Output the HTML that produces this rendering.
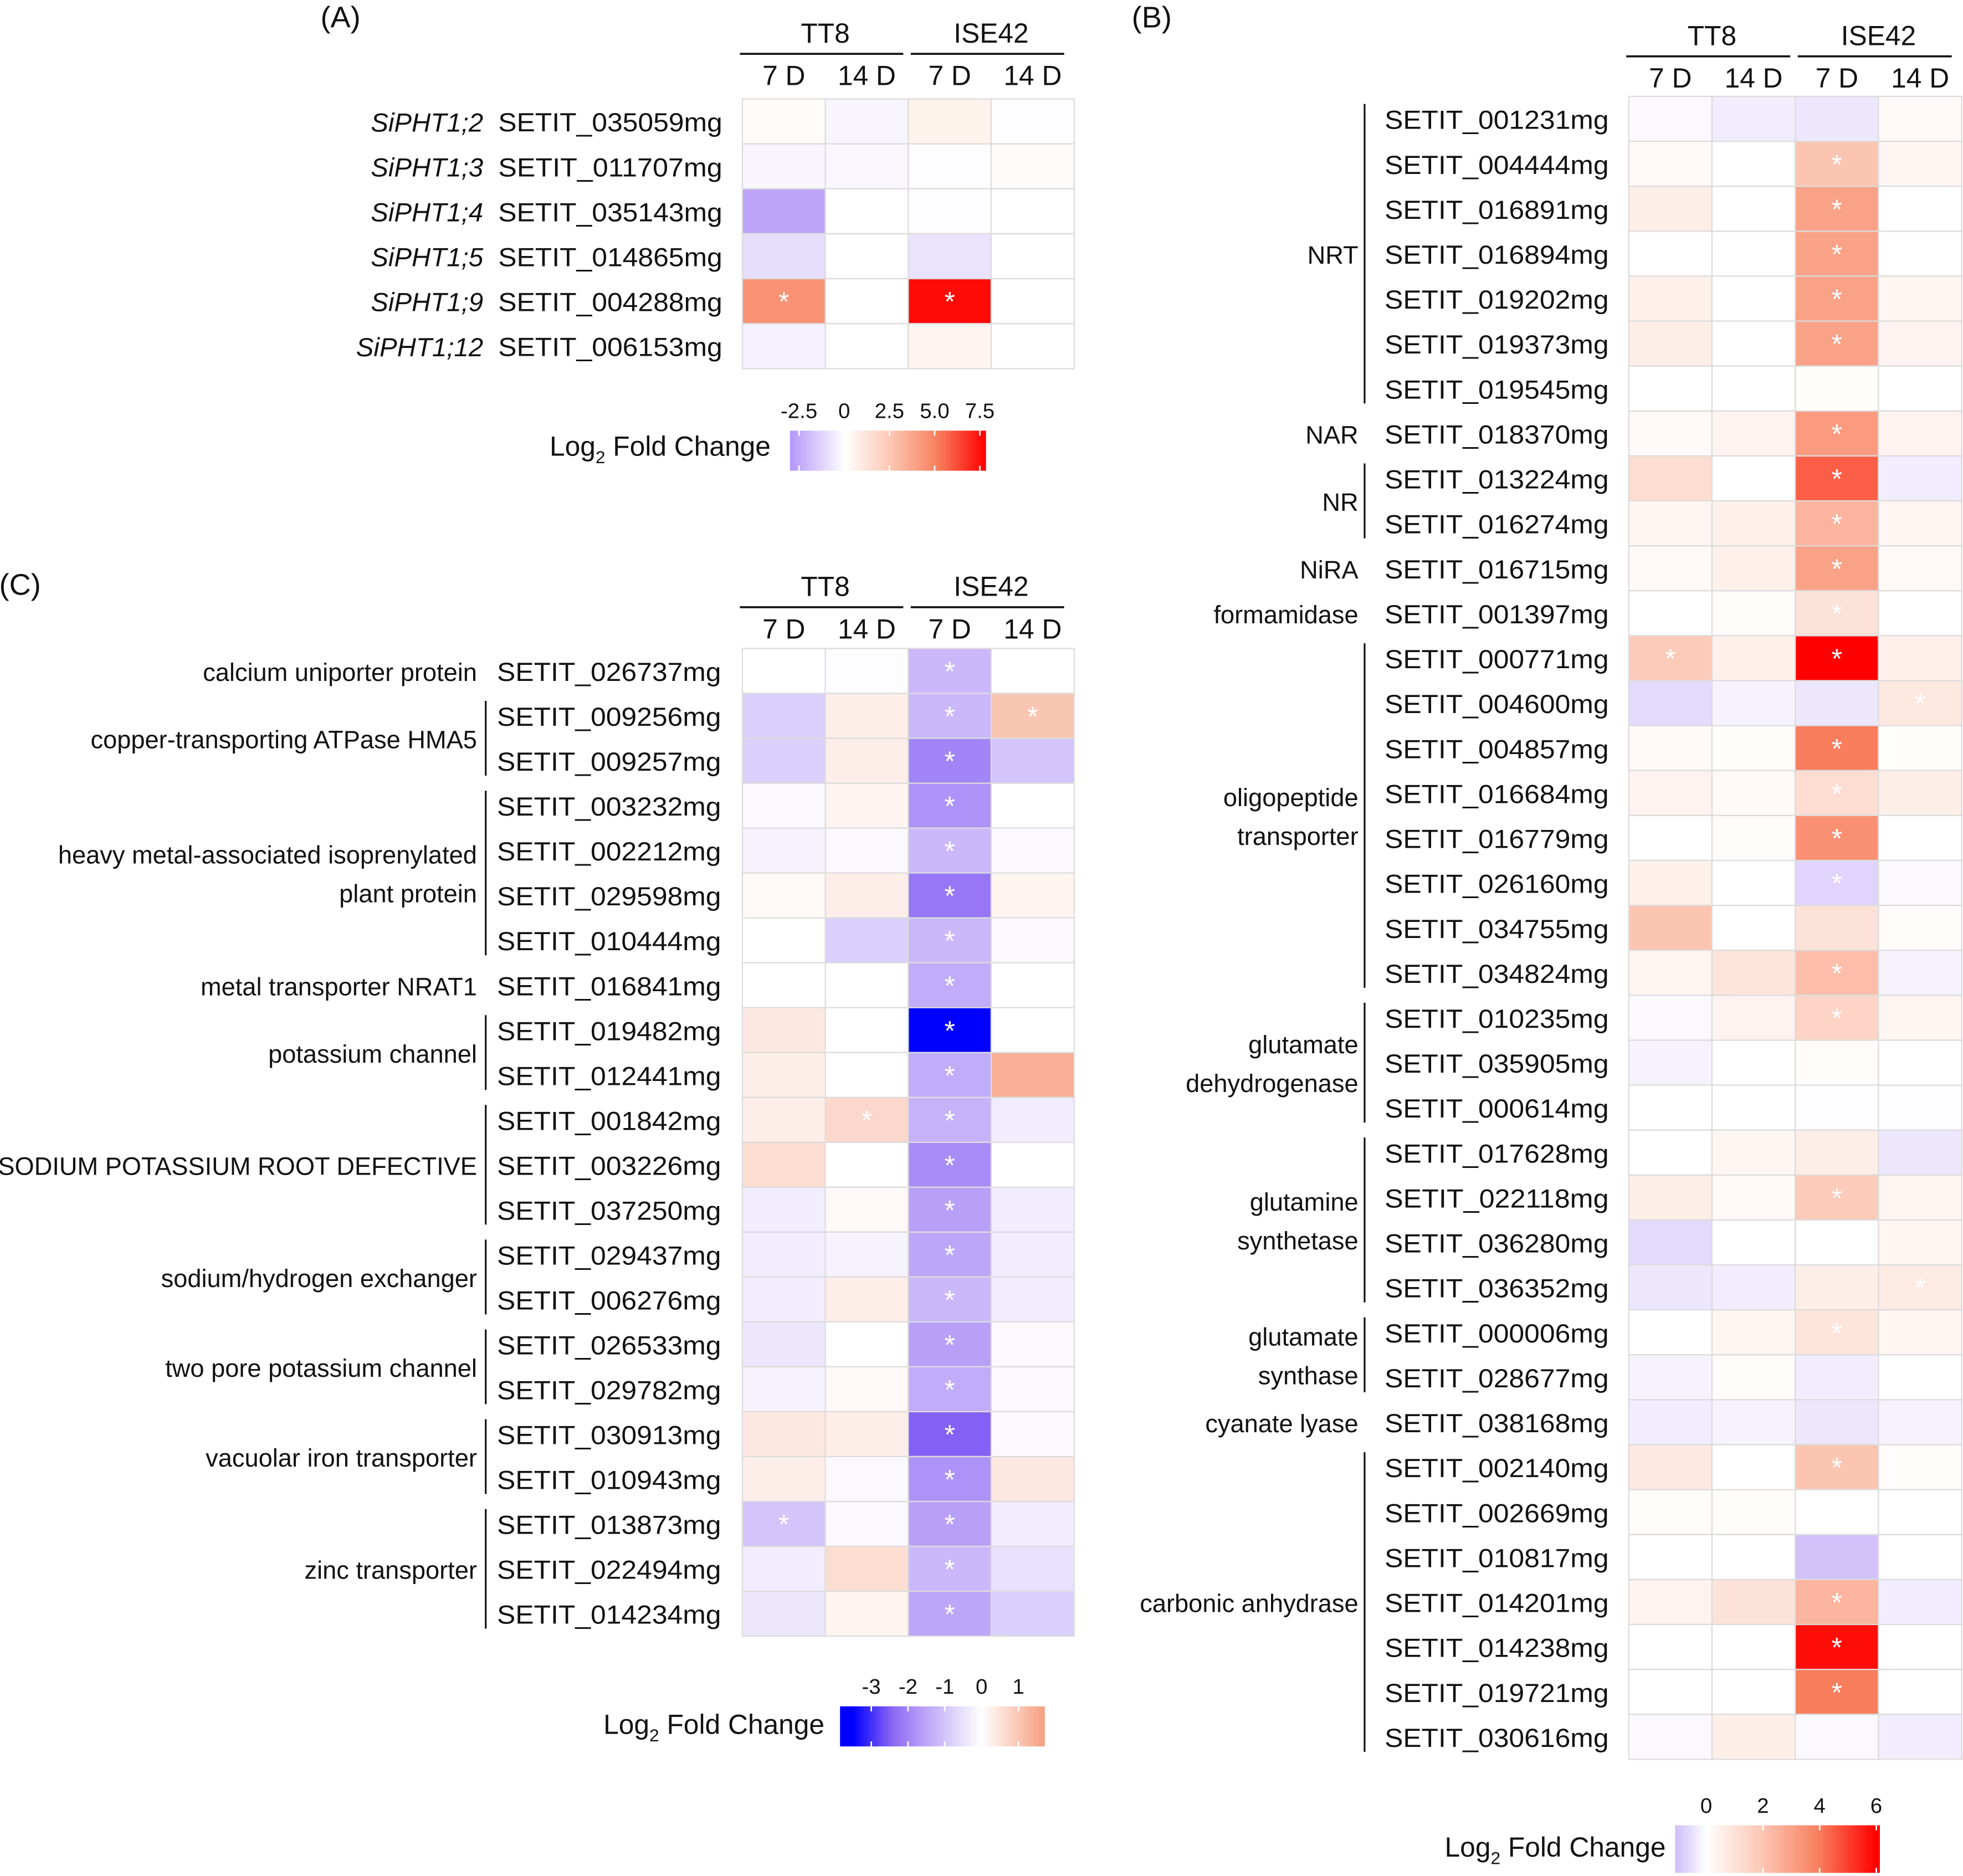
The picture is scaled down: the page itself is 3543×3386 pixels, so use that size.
<!DOCTYPE html>
<html><head><meta charset="utf-8"><style>
html,body{margin:0;padding:0;background:#fff}
svg{display:block}
text{font-family:"Liberation Sans",sans-serif;fill:#111}
</style></head><body>
<svg id="fig" width="3543" height="3386" viewBox="0 0 1568 1498.5" xmlns="http://www.w3.org/2000/svg"></svg>
<script>
// ---------- Panel A data ----------
const aGenes = ["SETIT_035059mg","SETIT_011707mg","SETIT_035143mg","SETIT_014865mg","SETIT_004288mg","SETIT_006153mg"];
const aNames = ["SiPHT1;2","SiPHT1;3","SiPHT1;4","SiPHT1;5","SiPHT1;9","SiPHT1;12"];
const aTT8_7 = [0.2,-0.3,-2.6,-1,4.5,-0.4];
const aTT8_14 = [-0.3,-0.2,0,0,0,0];
const aISE_7 = [0.6,-0.1,-0.1,-0.8,7.6,0.5];
const aISE_14 = [-0.1,0.2,0,0,0,0];
const aStars = ["----","----","----","----","*-*-","----"];
// ---------- Panel B data ----------
const bGenes = ["SETIT_001231mg","SETIT_004444mg","SETIT_016891mg","SETIT_016894mg","SETIT_019202mg","SETIT_019373mg","SETIT_019545mg","SETIT_018370mg","SETIT_013224mg","SETIT_016274mg","SETIT_016715mg","SETIT_001397mg","SETIT_000771mg","SETIT_004600mg","SETIT_004857mg","SETIT_016684mg","SETIT_016779mg","SETIT_026160mg","SETIT_034755mg","SETIT_034824mg","SETIT_010235mg","SETIT_035905mg","SETIT_000614mg","SETIT_017628mg","SETIT_022118mg","SETIT_036280mg","SETIT_036352mg","SETIT_000006mg","SETIT_028677mg","SETIT_038168mg","SETIT_002140mg","SETIT_002669mg","SETIT_010817mg","SETIT_014201mg","SETIT_014238mg","SETIT_019721mg","SETIT_030616mg"];
const bTT8_7 = [-0.1,0.2,0.6,0,0.5,0.6,0,0.2,1.2,0.3,0.2,0,1.8,-0.6,0.2,0.4,0,0.5,2,0.3,-0.1,-0.2,0,0,0.6,-0.6,-0.4,0,-0.2,-0.3,0.8,0.1,0,0.4,0,0,-0.1];
const bTT8_14 = [-0.3,0,0,0,0,0,0,0.4,0,0.5,0.5,0.1,0.5,-0.2,0.05,0.2,0.1,0,0,0.9,0.4,0,0,0.3,0.2,0,-0.3,0.3,0.1,-0.2,0,0.1,0,1,0,0,0.6];
const bISE_7 = [-0.4,2,3,3,3,3,0.05,3.2,4.5,2.5,3,1,6,-0.4,4,1.2,3.5,-0.7,1,2.2,1.5,0.1,-0.05,0.6,1.8,0,0.6,0.9,-0.3,-0.4,2,0,-1,2.5,5.8,4,-0.1];
const bISE_14 = [0.2,0.3,0,0,0.3,0.4,0,0.4,-0.3,0.3,0.2,0,0.5,0.8,0.05,0.6,0,-0.1,0.1,-0.2,0.3,0,-0.05,-0.4,0.3,0.3,0.7,0.3,0,-0.2,0.1,0,0,-0.3,0,0,-0.3];
const bStars = ["----","--*-","--*-","--*-","--*-","--*-","----","--*-","--*-","--*-","--*-","--*-","*-*-","---*","--*-","--*-","--*-","--*-","----","--*-","--*-","----","----","----","--*-","----","---*","--*-","----","----","--*-","----","----","--*-","--*-","--*-","----"];
const bGroups = [["NRT",0,6],["NAR",7,7],["NR",8,9],["NiRA",10,10],["formamidase",11,11],["oligopeptide|transporter",12,19],["glutamate|dehydrogenase",20,22],["glutamine|synthetase",23,26],["glutamate|synthase",27,28],["cyanate lyase",29,29],["carbonic anhydrase",30,36]];
// ---------- Panel C data ----------
const cGenes = ["SETIT_026737mg","SETIT_009256mg","SETIT_009257mg","SETIT_003232mg","SETIT_002212mg","SETIT_029598mg","SETIT_010444mg","SETIT_016841mg","SETIT_019482mg","SETIT_012441mg","SETIT_001842mg","SETIT_003226mg","SETIT_037250mg","SETIT_029437mg","SETIT_006276mg","SETIT_026533mg","SETIT_029782mg","SETIT_030913mg","SETIT_010943mg","SETIT_013873mg","SETIT_022494mg","SETIT_014234mg"];
const cTT8_7 = [0,-0.8,-0.8,-0.1,-0.2,0.1,0,0,0.4,0.3,0.3,0.6,-0.3,-0.3,-0.3,-0.4,-0.2,0.4,0.3,-1,-0.3,-0.4];
const cTT8_14 = [-0.05,0.3,0.3,0.2,-0.1,0.3,-0.8,0,0,0,0.7,0,0.1,-0.2,0.3,0,0.1,0.3,-0.1,-0.1,0.6,0.2];
const cISE_7 = [-1.2,-1.2,-2,-1.8,-1.2,-2.2,-1.2,-1.4,-3.5,-1.4,-1.3,-1.9,-1.6,-1.5,-1.2,-1.6,-1.4,-2.5,-1.8,-1.6,-1.2,-1.5];
const cISE_14 = [0,1,-1,0,-0.1,0.2,-0.1,0,0,1.4,-0.3,0,-0.3,-0.3,-0.3,-0.1,-0.1,-0.1,0.4,-0.3,-0.5,-0.8];
const cStars = ["--*-","--**","--*-","--*-","--*-","--*-","--*-","--*-","--*-","--*-","-**-","--*-","--*-","--*-","--*-","--*-","--*-","--*-","--*-","*-*-","--*-","--*-"];
const cGroups = [["calcium uniporter protein",0,0],["copper-transporting ATPase HMA5",1,2],["heavy metal-associated isoprenylated|plant protein",3,6],["metal transporter NRAT1",7,7],["potassium channel",8,9],["SODIUM POTASSIUM ROOT DEFECTIVE",10,12],["sodium/hydrogen exchanger",13,14],["two pore potassium channel",15,16],["vacuolar iron transporter",17,18],["zinc transporter",19,21]];

const NS="http://www.w3.org/2000/svg";
const svg=document.getElementById('fig');
function el(tag,attrs,parent){const e=document.createElementNS(NS,tag);for(const k in attrs)e.setAttribute(k,attrs[k]);(parent||svg).appendChild(e);return e;}
function txt(s,x,y,size,anchor,parent,extra){const t=el('text',Object.assign({x:x,y:y,'font-size':size,'text-anchor':anchor||'start'},extra||{}),parent);t.textContent=s;return t;}
function hex(c){return [parseInt(c.slice(1,3),16),parseInt(c.slice(3,5),16),parseInt(c.slice(5,7),16)];}
function interp(stops,f){f=Math.max(0,Math.min(1,f));for(let i=1;i<stops.length;i++){if(f<=stops[i][0]){const a=stops[i-1],b=stops[i];const t=(f-a[0])/(b[0]-a[0]);const ca=hex(a[1]),cb=hex(b[1]);return 'rgb('+ca.map((v,j)=>Math.round(v+(cb[j]-v)*t)).join(',')+')';}}return stops[stops.length-1][1];}
const redStops=[[0,'#ffffff'],[0.33,'#fcc6b3'],[0.66,'#f8805f'],[1,'#ff0000']];
function makeScale(negMin,posMax,negStops,posStops){return v=>v>=0?interp(posStops||redStops,v/posMax):interp(negStops,v/negMin);}
const scaleA=makeScale(-3,7.8,[[0,'#ffffff'],[1,'#b496f7']]);
const scaleB=makeScale(-1,6,[[0,'#ffffff'],[1,'#d2c2fa']]);
const scaleC=makeScale(-3.5,1.6,[[0,'#ffffff'],[0.45,'#b9a2f8'],[0.7,'#8a66f4'],[1,'#0000ff']],[[0,'#ffffff'],[1,'#f7a487']]);

function panel(name,opt){
  const g=el('g',{},svg);
  
  
  const cols=[opt.c1,opt.c2,opt.c3,opt.c4];
  const cw=(opt.x1-opt.x0)/4;
  const h1=txt('TT8',opt.x0+cw,opt.hy,22,'middle',g);
  
  const h2=txt('ISE42',opt.x0+3*cw,opt.hy,22,'middle',g);
  
  el('line',{x1:opt.x0-2,x2:opt.x0+2*cw-4,y1:opt.hy+9,y2:opt.hy+9,stroke:'#111','stroke-width':1.6},g);
  el('line',{x1:opt.x0+2*cw+2,x2:opt.x1-8,y1:opt.hy+9,y2:opt.hy+9,stroke:'#111','stroke-width':1.6},g);
  ['7 D','14 D','7 D','14 D'].forEach((s,i)=>{const t=txt(s,opt.x0+cw*(i+0.5),opt.hy+34,22,'middle',g);});
  opt.genes.forEach((gene,r)=>{
    const y=opt.y0+r*opt.rh;
    const gl=txt(gene,opt.gx,y+opt.rh/2+8,21,opt.ganchor,g,{textLength:179,lengthAdjust:'spacingAndGlyphs'});
    
    cols.forEach((arr,c)=>{
      const rc=el('rect',{x:opt.x0+c*cw,y:y,width:cw,height:opt.rh,fill:opt.scale(arr[r]),stroke:'#dcdcdc','stroke-width':1},g);
      
      
      if(opt.stars[r][c]==='*'){const s=txt('*',opt.x0+(c+0.5)*cw,y+opt.rh/2+8,22,'middle',g,{style:'fill:#fff'});}
    });
  });
  return g;
}
function legend(name,lx,ly,bx,by,bw,bh,ticks,tickPos,stopsFn,min,max){
  const g=el('g',{},svg);
  
  
  const t=el('text',{x:lx,y:ly,'font-size':22},g);t.innerHTML='Log<tspan font-size="14" dy="6">2</tspan><tspan dy="-6"> Fold Change</tspan>';
  const N=60;for(let i=0;i<N;i++){const v=min+(max-min)*(i+0.5)/N;el('rect',{x:bx+bw*i/N,y:by,width:bw/N+0.6,height:bh,fill:stopsFn(v)},g);}
  ticks.forEach((s,i)=>{const x=bx+bw*(tickPos[i]-min)/(max-min);txt(s,x,by-10,17,'middle',g);el('line',{x1:x,x2:x,y1:by,y2:by+4,stroke:'#fff','stroke-width':1.2},g);el('line',{x1:x,x2:x,y1:by+bh-4,y2:by+bh,stroke:'#fff','stroke-width':1.2},g);});
}
function groups(list,opt,parent){
  list.forEach(gr=>{
    const [lab,a,b]=gr;
    const yTop=opt.y0+a*opt.rh, yBot=opt.y0+(b+1)*opt.rh;
    const mid=(yTop+yBot)/2;
    const lines=lab.split('|');
    lines.forEach((s,i)=>{const t=txt(s,opt.lx,mid+8+(i-(lines.length-1)/2)*31,20,'end',parent);});
    if(b>a) el('line',{x1:opt.bx,x2:opt.bx,y1:yTop+6,y2:yBot-6,stroke:'#111','stroke-width':1.4},parent);
  });
}

[['(A)',272,22],['(B)',920,22],['(C)',16,475]].forEach(p=>{const t=txt(p[0],p[1],p[2],24,'middle');});

const gA=panel('panel-a',{x0:593,x1:858,y0:79,rh:35.9,hy:34,genes:aGenes,gx:577,ganchor:'end',c1:aTT8_7,c2:aTT8_14,c3:aISE_7,c4:aISE_14,stars:aStars,scale:scaleA});
aNames.forEach((n,r)=>{const t=txt(n,386,79+r*35.9+26,21,'end',gA,{'font-style':'italic'});});
legend('legend-a',439,364,631,344,156,32,['-2.5','0','2.5','5.0','7.5'],[-2.5,0,2.5,5,7.5],scaleA,-3,7.8);

const optB={x0:1301,x1:1567,y0:77,rh:35.9,hy:36,genes:bGenes,gx:1106,ganchor:'start',c1:bTT8_7,c2:bTT8_14,c3:bISE_7,c4:bISE_14,stars:bStars,scale:scaleB};
const gB=panel('panel-b',optB);
groups(bGroups,{y0:77,rh:35.9,lx:1085,bx:1090},gB);
legend('legend-b',1154,1483,1338,1458,163,38,['0','2','4','6'],[0,2,4,6],scaleB,-1.1,6.1);

const optC={x0:593,x1:858,y0:518,rh:35.86,hy:476,genes:cGenes,gx:397,ganchor:'start',c1:cTT8_7,c2:cTT8_14,c3:cISE_7,c4:cISE_14,stars:cStars,scale:scaleC};
const gC=panel('panel-c',optC);
groups(cGroups,{y0:518,rh:35.86,lx:381,bx:388},gC);
legend('legend-c',482,1385,671,1363,163,32,['-3','-2','-1','0','1'],[-3,-2,-1,0,1],scaleC,-3.85,1.7);
</script>
</body></html>
